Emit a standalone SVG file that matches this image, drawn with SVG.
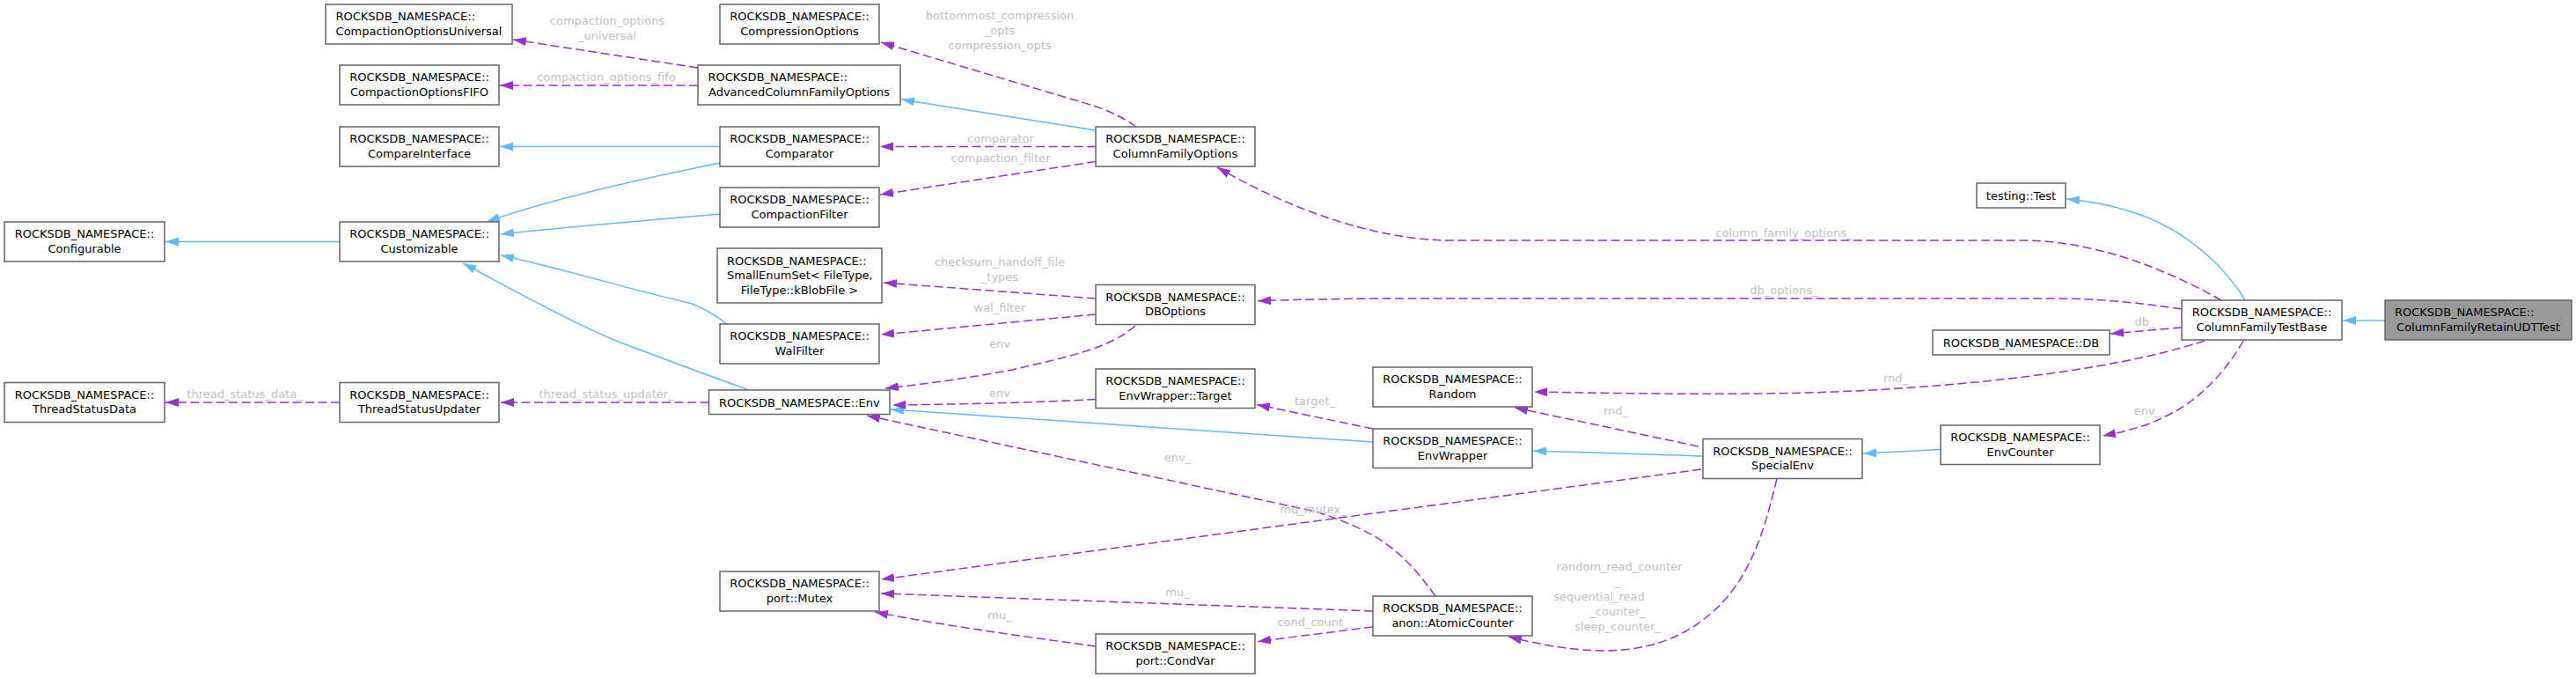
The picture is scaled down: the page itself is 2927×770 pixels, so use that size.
<svg xmlns="http://www.w3.org/2000/svg" width="2927" height="770" viewBox="0 0 2927 770">
<style>
.node rect{fill:#ffffff;stroke:#666666;stroke-width:1.5}
.node.root rect{fill:#999999}
.node text{font-family:"DejaVu Sans","Liberation Sans",sans-serif;font-size:13px;fill:#000000}
.c{text-anchor:middle}
.s{text-anchor:start}
.inh{fill:none;stroke:#63b8ff;stroke-width:1.5;marker-end:url(#ab)}
.use{fill:none;stroke:#9a32cd;stroke-width:1.5;stroke-dasharray:10,4.5;marker-end:url(#ap)}
.lbl{font-family:"DejaVu Sans","Liberation Sans",sans-serif;font-size:13px;fill:#c0c0c0;text-anchor:middle}
</style>
<defs>
<marker id="ab" markerUnits="userSpaceOnUse" markerWidth="15" markerHeight="10" viewBox="0 0 15 10" refX="15" refY="5" orient="auto"><path d="M0,0L15,5L0,10z" fill="#63b8ff"/></marker>
<marker id="ap" markerUnits="userSpaceOnUse" markerWidth="15" markerHeight="10" viewBox="0 0 15 10" refX="15" refY="5" orient="auto"><path d="M0,0L15,5L0,10z" fill="#9a32cd"/></marker>
</defs>
<rect x="0" y="0" width="2927" height="770" fill="#ffffff"/>
<g id="connectors">
<path class="inh" d="M386,274.5L188,274.5"/>
<path class="inh" d="M818,166.5L568,166.5"/>
<path class="inh" d="M818,185C720,205 620,228 553,252"/>
<path class="inh" d="M818,243C740,250 640,258 569,266"/>
<path class="inh" d="M826,368C805,352 790,345 775,342C720,330 640,305 569,290"/>
<path class="inh" d="M851,443C810,428 760,410 700,387C640,362 570,322 526,299"/>
<path class="inh" d="M1245,148L1024,113"/>
<path class="inh" d="M1560,502L1012,465"/>
<path class="inh" d="M1935,518L1742,512"/>
<path class="inh" d="M2205,510.5L2117,515"/>
<path class="inh" d="M2551,341C2520,290 2470,255 2420,240C2395,232 2370,228 2348,226"/>
<path class="inh" d="M2710,364L2662,364"/>
<path class="use" d="M793,77L583,45"/>
<text class="lbl" x="690" y="28">compaction_options</text>
<text class="lbl" x="690" y="45">_universal</text>
<path class="use" d="M793,97L568,97"/>
<text class="lbl" x="689" y="92">compaction_options_fifo</text>
<path class="use" d="M1291,144C1268,128 1250,122 1229,116L1001,48"/>
<text class="lbl" x="1136" y="21.5">bottommost_compression</text>
<text class="lbl" x="1136" y="38.5">_opts</text>
<text class="lbl" x="1136" y="55.5">compression_opts</text>
<path class="use" d="M1245,166.5L1000,166.5"/>
<text class="lbl" x="1137" y="162">comparator</text>
<path class="use" d="M1245,183.5L1000,221"/>
<text class="lbl" x="1137" y="184">compaction_filter</text>
<path class="use" d="M2524,341C2490,322 2400,274 2300,273L1640,273C1560,270 1470,240 1383,190"/>
<text class="lbl" x="2027" y="269">column_family_options_</text>
<path class="use" d="M2479,351C2430,344 2390,339 2330,339L1600,339C1540,339 1480,340 1429,341.7"/>
<text class="lbl" x="2027" y="334">db_options_</text>
<path class="use" d="M1245,339L1004,321"/>
<text class="lbl" x="1136" y="302">checksum_handoff_file</text>
<text class="lbl" x="1136" y="319">_types</text>
<path class="use" d="M1245,357L1001,380"/>
<text class="lbl" x="1136" y="354">wal_filter</text>
<path class="use" d="M1290,370C1262,395 1215,405 1150,420C1080,433 1040,437 1006,441"/>
<text class="lbl" x="1136" y="395">env</text>
<path class="use" d="M1245,453.5C1180,457 1100,459 1014,460"/>
<text class="lbl" x="1136" y="451">env</text>
<path class="use" d="M1560,487L1428,459.5"/>
<text class="lbl" x="1494" y="460">target_</text>
<path class="use" d="M1631,677C1610,648 1590,625 1560,608C1540,597 1520,589 1495,581L985,472"/>
<text class="lbl" x="1338" y="524">env_</text>
<path class="use" d="M1930,507L1721,463"/>
<text class="lbl" x="1836" y="471">rnd_</text>
<path class="use" d="M2505,387C2450,405 2380,418 2300,428C2200,440 2100,446 2000,447C1900,448 1800,446 1743,445"/>
<text class="lbl" x="2154" y="434">rnd_</text>
<path class="use" d="M2549,387C2530,420 2500,455 2460,473C2440,484 2415,490 2389,495"/>
<text class="lbl" x="2440" y="471">env_</text>
<path class="use" d="M2479,372L2398,379"/>
<text class="lbl" x="2437" y="370">db_</text>
<path class="use" d="M1933,533L1001,658"/>
<text class="lbl" x="1492" y="583">md_mutex_</text>
<path class="use" d="M1560,694L1001,674"/>
<text class="lbl" x="1338" y="677">mu_</text>
<path class="use" d="M1245,734C1180,725 1080,712 994,695"/>
<text class="lbl" x="1136" y="703">mu_</text>
<path class="use" d="M1560,712L1429,728.5"/>
<text class="lbl" x="1492" y="711">cond_count_</text>
<path class="use" d="M2019,544C2005,600 1990,660 1940,700C1880,750 1800,745 1714,723"/>
<text class="lbl" x="1840" y="648">random_read_counter</text>
<text class="lbl" x="1838" y="665">_</text>
<text class="lbl" x="1817" y="682">sequential_read</text>
<text class="lbl" x="1838" y="699">_counter_</text>
<text class="lbl" x="1838" y="716">sleep_counter_</text>
<path class="use" d="M805.5,457L569,457"/>
<text class="lbl" x="689" y="452">thread_status_updater_</text>
<path class="use" d="M386,457L188,457"/>
<text class="lbl" x="278" y="452">thread_status_data_</text>
</g>
<g id="n_configurable" class="node"><rect x="5" y="252" width="182" height="45"/><text class="c" x="96" y="270">ROCKSDB_NAMESPACE::</text><text class="c" x="96" y="286.7">Configurable</text></g>
<g id="n_threadstatusdata" class="node"><rect x="5" y="434.5" width="182" height="45"/><text class="c" x="96" y="452.5">ROCKSDB_NAMESPACE::</text><text class="c" x="96" y="469.2">ThreadStatusData</text></g>
<g id="n_compactionoptionsuniversal" class="node"><rect x="370" y="5" width="212" height="45"/><text class="s" x="381.5" y="23">ROCKSDB_NAMESPACE::</text><text class="c" x="476" y="39.7">CompactionOptionsUniversal</text></g>
<g id="n_compactionoptionsfifo" class="node"><rect x="386" y="74" width="181" height="45"/><text class="c" x="476.5" y="92">ROCKSDB_NAMESPACE::</text><text class="c" x="476.5" y="108.7">CompactionOptionsFIFO</text></g>
<g id="n_compareinterface" class="node"><rect x="386" y="144" width="181" height="45"/><text class="c" x="476.5" y="162">ROCKSDB_NAMESPACE::</text><text class="c" x="476.5" y="178.7">CompareInterface</text></g>
<g id="n_customizable" class="node"><rect x="386" y="252" width="181" height="45"/><text class="c" x="476.5" y="270">ROCKSDB_NAMESPACE::</text><text class="c" x="476.5" y="286.7">Customizable</text></g>
<g id="n_threadstatusupdater" class="node"><rect x="386" y="434.5" width="181" height="45"/><text class="c" x="476.5" y="452.5">ROCKSDB_NAMESPACE::</text><text class="c" x="476.5" y="469.2">ThreadStatusUpdater</text></g>
<g id="n_compressionoptions" class="node"><rect x="818" y="5" width="181" height="45"/><text class="c" x="908.5" y="23">ROCKSDB_NAMESPACE::</text><text class="c" x="908.5" y="39.7">CompressionOptions</text></g>
<g id="n_advancedcolumnfamilyoptions" class="node"><rect x="793" y="74" width="230" height="45"/><text class="s" x="804.5" y="92">ROCKSDB_NAMESPACE::</text><text class="c" x="908" y="108.7">AdvancedColumnFamilyOptions</text></g>
<g id="n_comparator" class="node"><rect x="818" y="144" width="181" height="45"/><text class="c" x="908.5" y="162">ROCKSDB_NAMESPACE::</text><text class="c" x="908.5" y="178.7">Comparator</text></g>
<g id="n_compactionfilter" class="node"><rect x="818" y="213" width="181" height="45"/><text class="c" x="908.5" y="231">ROCKSDB_NAMESPACE::</text><text class="c" x="908.5" y="247.7">CompactionFilter</text></g>
<g id="n_smallenumset" class="node"><rect x="815" y="282" width="187" height="62"/><text class="s" x="826" y="300.7">ROCKSDB_NAMESPACE::</text><text class="s" x="826" y="317.4">SmallEnumSet&lt; FileType,</text><text class="c" x="908.5" y="334.1">FileType::kBlobFile &gt;</text></g>
<g id="n_walfilter" class="node"><rect x="818" y="368" width="181" height="45"/><text class="c" x="908.5" y="386">ROCKSDB_NAMESPACE::</text><text class="c" x="908.5" y="402.7">WalFilter</text></g>
<g id="n_env" class="node"><rect x="805.5" y="443" width="205.5" height="27.5"/><text class="c" x="908.3" y="461.5">ROCKSDB_NAMESPACE::Env</text></g>
<g id="n_mutex" class="node"><rect x="818" y="649" width="181" height="45"/><text class="c" x="908.5" y="667">ROCKSDB_NAMESPACE::</text><text class="c" x="908.5" y="683.7">port::Mutex</text></g>
<g id="n_columnfamilyoptions" class="node"><rect x="1245" y="144" width="181" height="45"/><text class="c" x="1335.5" y="162">ROCKSDB_NAMESPACE::</text><text class="c" x="1335.5" y="178.7">ColumnFamilyOptions</text></g>
<g id="n_dboptions" class="node"><rect x="1245" y="323.5" width="181" height="45"/><text class="c" x="1335.5" y="341.5">ROCKSDB_NAMESPACE::</text><text class="c" x="1335.5" y="358.2">DBOptions</text></g>
<g id="n_envwrappertarget" class="node"><rect x="1245" y="419" width="181" height="44.5"/><text class="c" x="1335.5" y="437">ROCKSDB_NAMESPACE::</text><text class="c" x="1335.5" y="453.7">EnvWrapper::Target</text></g>
<g id="n_condvar" class="node"><rect x="1245" y="720" width="181" height="45"/><text class="c" x="1335.5" y="738">ROCKSDB_NAMESPACE::</text><text class="c" x="1335.5" y="754.7">port::CondVar</text></g>
<g id="n_random" class="node"><rect x="1560" y="417" width="181" height="45"/><text class="c" x="1650.5" y="435">ROCKSDB_NAMESPACE::</text><text class="c" x="1650.5" y="451.7">Random</text></g>
<g id="n_envwrapper" class="node"><rect x="1560" y="487" width="181" height="44.5"/><text class="c" x="1650.5" y="505">ROCKSDB_NAMESPACE::</text><text class="c" x="1650.5" y="521.7">EnvWrapper</text></g>
<g id="n_atomiccounter" class="node"><rect x="1560" y="677" width="181" height="45"/><text class="c" x="1650.5" y="695">ROCKSDB_NAMESPACE::</text><text class="c" x="1650.5" y="711.7">anon::AtomicCounter</text></g>
<g id="n_specialenv" class="node"><rect x="1935" y="498.5" width="181" height="45"/><text class="c" x="2025.5" y="516.5">ROCKSDB_NAMESPACE::</text><text class="c" x="2025.5" y="533.2">SpecialEnv</text></g>
<g id="n_testingtest" class="node"><rect x="2246" y="208" width="101" height="28"/><text class="c" x="2296.5" y="226.5">testing::Test</text></g>
<g id="n_db" class="node"><rect x="2196" y="375" width="201" height="28"/><text class="c" x="2296.5" y="393.5">ROCKSDB_NAMESPACE::DB</text></g>
<g id="n_envcounter" class="node"><rect x="2205" y="483" width="181" height="44.5"/><text class="c" x="2295.5" y="501">ROCKSDB_NAMESPACE::</text><text class="c" x="2295.5" y="517.7">EnvCounter</text></g>
<g id="n_columnfamilytestbase" class="node"><rect x="2479" y="341" width="182" height="45"/><text class="c" x="2570" y="359">ROCKSDB_NAMESPACE::</text><text class="c" x="2570" y="375.7">ColumnFamilyTestBase</text></g>
<g id="n_columnfamilyretainudttest" class="node root"><rect x="2710" y="341" width="212" height="45"/><text class="s" x="2721" y="359">ROCKSDB_NAMESPACE::</text><text class="c" x="2816" y="375.7">ColumnFamilyRetainUDTTest</text></g>
</svg>
